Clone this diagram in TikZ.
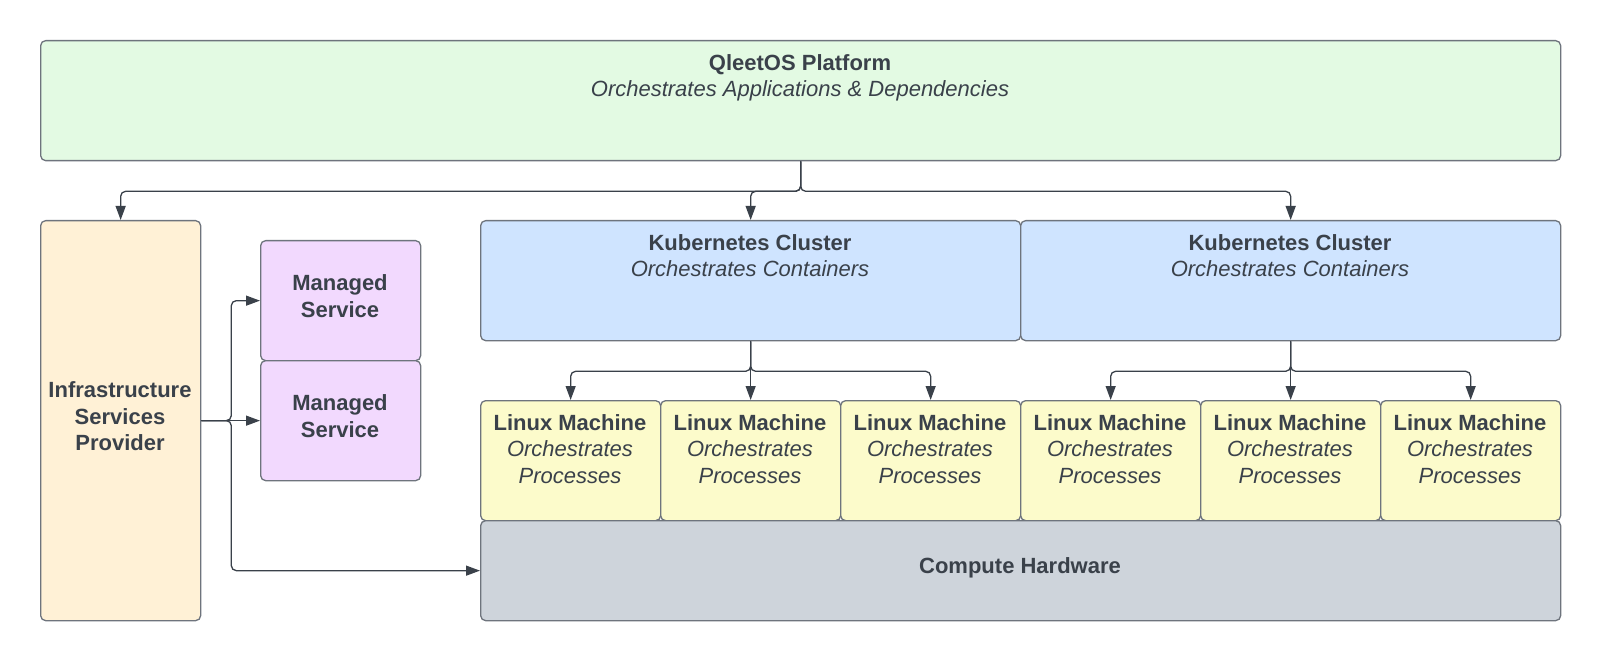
\documentclass[tikz,border=0pt]{standalone}
\usepackage{fontspec}
\setmainfont{Liberation Sans}
\usetikzlibrary{arrows.meta}
\definecolor{txt}{HTML}{3A414A}
\definecolor{bord}{HTML}{6E747D}
\definecolor{cgreen}{HTML}{E3FAE3}
\definecolor{cpeach}{HTML}{FFF1D6}
\definecolor{clav}{HTML}{F2D9FE}
\definecolor{cblue}{HTML}{CFE4FF}
\definecolor{cyell}{HTML}{FCFBCB}
\definecolor{cgrey}{HTML}{CED4DB}
\begin{document}
\begin{tikzpicture}[x=1pt,y=-1pt,
  box/.style={draw=bord, line width=1.3pt, rounded corners=5pt, inner sep=0pt, anchor=north west},
  ttl/.style={font=\fontsize{22}{26.5}\selectfont, text=txt, align=center, inner sep=0pt},
  conn/.style={draw=txt, line width=1.3pt, rounded corners=5pt, -{Triangle[length=14pt,width=10pt]}}
]
\useasboundingbox (0,0) rectangle (1600,660);
% boxes
\node[box, fill=cgreen, minimum width=1520pt, minimum height=120pt] (plat) at (40,40) {};
\node[box, fill=cpeach, minimum width=160pt, minimum height=400pt] (infra) at (40,220) {};
\node[box, fill=clav, minimum width=160pt, minimum height=120pt] (ms1) at (260,240) {};
\node[box, fill=clav, minimum width=160pt, minimum height=120pt] (ms2) at (260,360) {};
\node[box, fill=cblue, minimum width=540pt, minimum height=120pt] (k1) at (480,220) {};
\node[box, fill=cblue, minimum width=540pt, minimum height=120pt] (k2) at (1020,220) {};
\node[box, fill=cyell, minimum width=180pt, minimum height=120pt] (l1) at (480,400) {};
\node[box, fill=cyell, minimum width=180pt, minimum height=120pt] (l2) at (660,400) {};
\node[box, fill=cyell, minimum width=180pt, minimum height=120pt] (l3) at (840,400) {};
\node[box, fill=cyell, minimum width=180pt, minimum height=120pt] (l4) at (1020,400) {};
\node[box, fill=cyell, minimum width=180pt, minimum height=120pt] (l5) at (1200,400) {};
\node[box, fill=cyell, minimum width=180pt, minimum height=120pt] (l6) at (1380,400) {};
\node[box, fill=cgrey, minimum width=1080pt, minimum height=100pt] (comp) at (480,520) {};
% texts
\node[ttl, anchor=north] (plat-t) at (800,54) {\textbf{QleetOS Platform}\\\textit{Orchestrates Applications \& Dependencies}};
\node[ttl] (infra-t) at (120,416.5) {\textbf{Infrastructure}\\\textbf{Services}\\\textbf{Provider}};
\node[ttl] (ms1-t) at (340,296) {\textbf{Managed}\\\textbf{Service}};
\node[ttl] (ms2-t) at (340,416) {\textbf{Managed}\\\textbf{Service}};
\node[ttl, anchor=north] (k1-t) at (750,234) {\textbf{Kubernetes Cluster}\\\textit{Orchestrates Containers}};
\node[ttl, anchor=north] (k2-t) at (1290,234) {\textbf{Kubernetes Cluster}\\\textit{Orchestrates Containers}};
\foreach \n/\x in {l1/570,l2/750,l3/930,l4/1110,l5/1290,l6/1470}{
  \node[ttl, anchor=north] (\n-t) at (\x,414) {\textbf{Linux Machine}\\\textit{Orchestrates}\\\textit{Processes}};
}
\node[ttl] (comp-t) at (1020,567.5) {\textbf{Compute Hardware}};
% connectors
\draw[conn] (plat.south) -- ++(0,30) -| (infra.north);
\draw[conn] (plat.south) -- ++(0,30) -| (k1.north);
\draw[conn] (plat.south) -- ++(0,30) -| (k2.north);
\draw[conn] (k1.south) -- ++(0,30) -| (l1.north);
\draw[conn] (k1.south) -- (l2.north);
\draw[conn] (k1.south) -- ++(0,30) -| (l3.north);
\draw[conn] (k2.south) -- ++(0,30) -| (l4.north);
\draw[conn] (k2.south) -- (l5.north);
\draw[conn] (k2.south) -- ++(0,30) -| (l6.north);
\draw[conn] (infra.east) -- ++(30,0) |- (ms1.west);
\draw[conn] (infra.east) -- (ms2.west);
\draw[conn] (infra.east) -- ++(30,0) |- (comp.west);
\end{tikzpicture}
\end{document}
